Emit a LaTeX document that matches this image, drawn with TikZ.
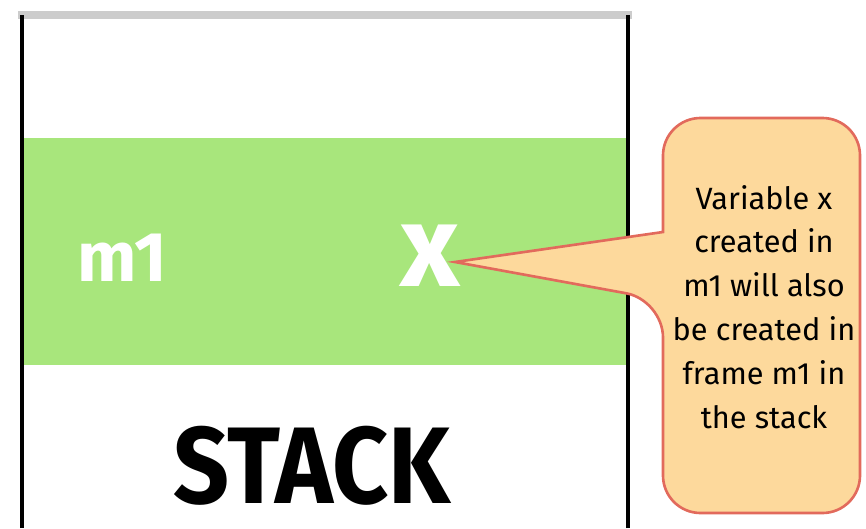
\documentclass[tikz,border=0pt]{standalone}
\usepackage{fontspec}
\setmainfont{Fira Sans}
\usepackage{xcolor}
\usepackage{tikz}
\usetikzlibrary{calc, positioning}

\definecolor{framegreen}{RGB}{168,230,124}
\definecolor{notefill}{RGB}{253,217,156}
\definecolor{noteedge}{RGB}{226,106,92}

\begin{document}
\begin{tikzpicture}[x=0.02cm, y=-0.02cm,
    chalk/.style={text=white, font=\bfseries\fontsize{40}{40}\selectfont},
    note/.style={fill=notefill, draw=noteedge, line width=1.5pt},
    notetext/.style={align=center, font=\fontsize{17.5}{25}\selectfont}]
    % Kich thuoc cua hinh
    \useasboundingbox (0,0) rectangle (866,528);

    % Khung ngan xep va frame m1 (mau xanh)
    \fill[framegreen] (24,138) rectangle (626,365);
    \draw[gray!40, line width=5pt] (18,15) -- (632,15);
    \draw[line width=2.5pt] (22,528) -- (22,15);
    \draw[line width=2.5pt] (628,528) -- (628,15);

    % Ten frame, bien x va chu STACK
    \node[chalk] (mone) at (122,258) {m1};
    \node[chalk, font=\bfseries\fontsize{66}{66}\selectfont] (varx) at (430,256) {x};
    \node[font=\bfseries\fontsize{62}{62}\selectfont, xscale=0.9, inner sep=0pt]
        (stack) at (312,466) {STACK};

    % Loi chu thich (mui nhon chi vao x)
    \coordinate (tip) at (455,262);
    \draw[note] (tip) -- (663,232) [rounded corners=0.75cm] -- (663,118) -- (860,118)
        -- (860,513) -- (663,513) -- (663,300) [sharp corners] -- cycle;
    \node[notetext] (note) at (764,307)
        {Variable x\\created in\\m1 will also\\be created in\\frame m1 in\\the stack};
\end{tikzpicture}
\end{document}
